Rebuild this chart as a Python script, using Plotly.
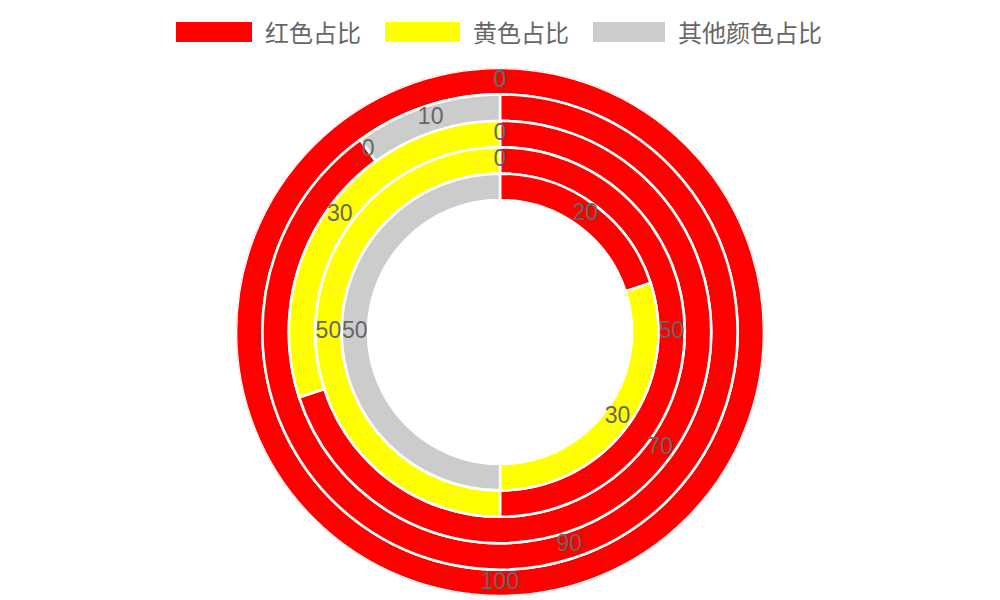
import plotly.graph_objects as go

# ---- data (outer ring first) ----
categories = ["红色占比", "黄色占比", "其他颜色占比"]
red_values = [100, 90, 70, 50, 20]
yellow_values = [0, 0, 30, 50, 30]
gray_values = [0, 10, 0, 0, 50]
colors = ["#ff0000", "#ffff00", "#cccccc"]

series = [red_values, yellow_values, gray_values]
n_rings = len(red_values)
outer = 10.0
thick = 1.0

W, H = 1000, 600
OFF = 8  # page body margin offset

fig = go.Figure()

label_r, label_t, label_txt = [], [], []
bars = {c: dict(theta=[], width=[], base=[], r=[]) for c in range(len(categories))}
for i in range(n_rings):
    total = sum(s[i] for s in series)
    start = 0.0
    base = outer - thick * (i + 1)
    for c, s in enumerate(series):
        v = s[i]
        span = v / total * 360.0
        mid = start + span / 2
        if v > 0:
            bars[c]["theta"].append(mid)
            bars[c]["width"].append(span)
            bars[c]["base"].append(base)
            bars[c]["r"].append(thick)
        label_r.append(base + thick / 2)
        label_t.append(mid)
        label_txt.append(str(v))
        start += span

for c, name in enumerate(categories):
    b = bars[c]
    fig.add_trace(go.Barpolar(
        r=b["r"], theta=b["theta"], width=b["width"], base=b["base"],
        name=name, marker=dict(color=colors[c], line=dict(color="white", width=2.6)),
        showlegend=False, hoverinfo="skip"))

fig.add_trace(go.Scatterpolar(
    r=label_r, theta=label_t, text=label_txt, mode="text",
    textfont=dict(size=23, color="#666666", family="Liberation Sans, Arial, sans-serif"),
    showlegend=False, hoverinfo="skip"))

# custom legend (wide colour boxes like the original)
leg_boxes = [(176, 252), (385, 460), (593, 665)]
for c, name in enumerate(categories):
    x0, x1 = leg_boxes[c]
    fig.add_shape(type="rect", xref="paper", yref="paper",
                  x0=(x0 - OFF) / W, x1=(x1 - OFF) / W,
                  y0=1 - (42 - OFF) / H, y1=1 - (22 - OFF) / H,
                  fillcolor=colors[c], line=dict(width=0))
    fig.add_annotation(xref="paper", yref="paper", x=(x1 + 11 - OFF) / W,
                       y=1 - (31 - OFF) / H,
                       xanchor="left", yanchor="middle", text=name, showarrow=False,
                       font=dict(size=24, color="#666666",
                                 family="Noto Sans CJK SC, Liberation Sans, sans-serif"))

cx, cy, R = 500 - OFF, 332 - OFF, 264
fig.update_layout(
    width=W, height=H,
    margin=dict(l=0, r=0, t=0, b=0),
    paper_bgcolor="white",
    polar=dict(
        domain=dict(x=[(cx - R) / W, (cx + R) / W],
                    y=[1 - (cy + R) / H, 1 - (cy - R) / H]),
        bgcolor="white",
        radialaxis=dict(range=[0, outer], visible=False, showgrid=False),
        angularaxis=dict(rotation=90, direction="clockwise", visible=False,
                         showgrid=False),
        hole=0,
    ),
    bargap=0,
)

fig.write_html("out.html")
